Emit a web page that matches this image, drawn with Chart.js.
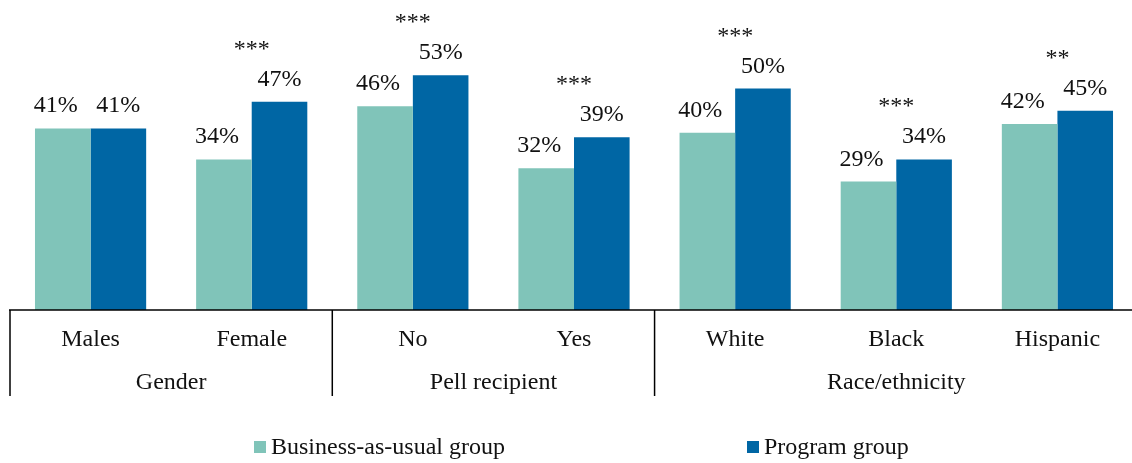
<!DOCTYPE html>
<html lang="en">
<head>
    <meta charset="UTF-8">
    <title>Outcomes by subgroup</title>
    <script src="https://cdn.jsdelivr.net/npm/chart.js"></script>
    <style>
        body { margin: 0; background: #fff; overflow: hidden; }
        .wrap { position: relative; width: 1138px; height: 463px; }
    </style>
</head>
<body>
    <div class="wrap"><canvas id="chart"></canvas></div>

    <script>
        // data
        const categories = ["Males", "Female", "No", "Yes", "White", "Black", "Hispanic"];
        const groups = [
            { label: "Gender", from: 0, to: 1 },
            { label: "Pell recipient", from: 2, to: 3 },
            { label: "Race/ethnicity", from: 4, to: 6 }
        ];
        const businessAsUsual = [41, 34, 46, 32, 40, 29, 42];
        const programGroup = [41, 47, 53, 39, 50, 34, 45];
        const significance = ["", "***", "***", "***", "***", "***", "**"];

        const FONT = "'Liberation Serif', 'Times New Roman', serif";
        const TEAL = "#80c4b9";
        const BLUE = "#0066a4";

        const annotations = {
            id: "annotations",
            afterDatasetsDraw(chart) {
                const ctx = chart.ctx;
                const x = chart.scales.x;
                const area = chart.chartArea;
                const catW = (x.getPixelForValue(1) - x.getPixelForValue(0));
                ctx.save();
                ctx.fillStyle = "#111";
                ctx.font = "24px " + FONT;
                ctx.textAlign = "center";
                ctx.textBaseline = "alphabetic";

                // value labels
                chart.data.datasets.forEach((ds, di) => {
                    const meta = chart.getDatasetMeta(di);
                    meta.data.forEach((bar, i) => {
                        const dx = di === 0 ? -7 : 0;
                        ctx.fillText(ds.data[i] + "%", bar.x + dx, bar.y - 16);
                    });
                });

                // significance stars above each pair
                const progMeta = chart.getDatasetMeta(1);
                significance.forEach((s, i) => {
                    if (!s) return;
                    const top = progMeta.data[i].y;
                    ctx.fillText(s, x.getPixelForValue(i), top - 46);
                });

                // axis line and group separators
                const base = area.bottom;
                ctx.strokeStyle = "#000";
                ctx.lineWidth = 1.5;
                ctx.beginPath();
                ctx.moveTo(area.left - 1, base);
                ctx.lineTo(chart.width, base);
                ctx.stroke();

                groups.forEach(g => {
                    const left = x.getPixelForValue(g.from) - catW / 2;
                    ctx.beginPath();
                    ctx.moveTo(left, base);
                    ctx.lineTo(left, base + 86);
                    ctx.stroke();
                    const mid = (x.getPixelForValue(g.from) + x.getPixelForValue(g.to)) / 2;
                    ctx.fillText(g.label, mid, base + 79);
                });

                // category labels
                categories.forEach((c, i) => {
                    ctx.fillText(c, x.getPixelForValue(i), base + 36);
                });

                // legend
                const legendY = 447;
                const items = [
                    { label: chart.data.datasets[0].label, color: TEAL, x: 254 },
                    { label: chart.data.datasets[1].label, color: BLUE, x: 747 }
                ];
                ctx.textAlign = "left";
                ctx.textBaseline = "middle";
                items.forEach(it => {
                    ctx.fillStyle = it.color;
                    ctx.fillRect(it.x, legendY - 6, 12, 12);
                    ctx.fillStyle = "#111";
                    ctx.fillText(it.label, it.x + 17, legendY + 1);
                });
                ctx.restore();
            }
        };

        new Chart(document.getElementById("chart").getContext("2d"), {
            type: "bar",
            data: {
                labels: categories,
                datasets: [
                    { label: "Business-as-usual group", data: businessAsUsual, backgroundColor: TEAL },
                    { label: "Program group", data: programGroup, backgroundColor: BLUE }
                ]
            },
            options: {
                responsive: true,
                maintainAspectRatio: false,
                animation: false,
                layout: { padding: { left: 10, right: 0, top: 0, bottom: 153 } },
                datasets: { bar: { categoryPercentage: 0.69, barPercentage: 1 } },
                plugins: {
                    legend: { display: false },
                    tooltip: { enabled: false }
                },
                scales: {
                    x: { display: false },
                    y: { display: false, min: 0, max: 70 }
                }
            },
            plugins: [annotations]
        });
    </script>
</body>
</html>
